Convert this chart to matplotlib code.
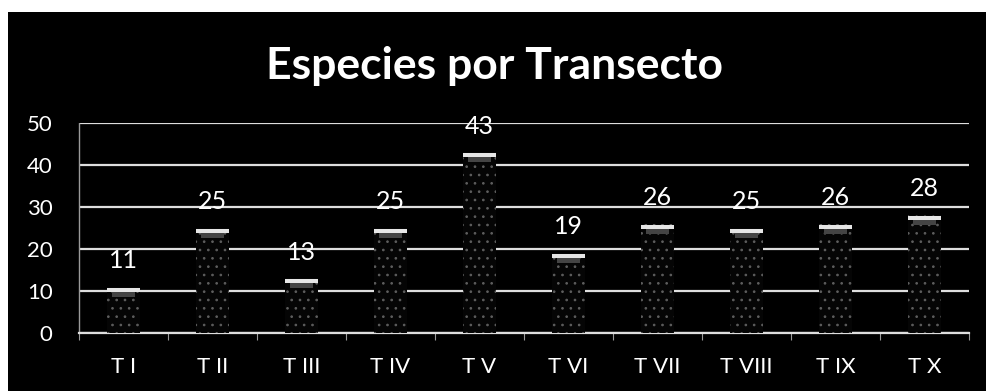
import matplotlib
matplotlib.use("Agg")
import matplotlib.pyplot as plt
from matplotlib.patches import Rectangle
import numpy as np

# Species counted in each transect
transects = ["T I", "T II", "T III", "T IV", "T V", "T VI", "T VII", "T VIII", "T IX", "T X"]
species = [11, 25, 13, 25, 43, 19, 26, 25, 26, 28]
y_ticks = [0, 10, 20, 30, 40, 50]

plt.rcParams["font.family"] = ["Lato", "DejaVu Sans"]
plt.rcParams["hatch.linewidth"] = 0.7

W, H = 987, 391
fig = plt.figure(figsize=(W / 100, H / 100), dpi=100, facecolor="white")

# black chart panel
fig.patches.append(Rectangle((8 / W, 0), 1 - 8 / W, 1 - 12 / H,
                             transform=fig.transFigure, facecolor="black",
                             edgecolor="none", zorder=-10))

ax = fig.add_axes([79 / W, (H - 333) / H, (969 - 79) / W, (333 - 123) / H])
ax.set_facecolor("none")

x = np.arange(len(transects))
vals = np.array(species, dtype=float)
bw = 0.36

# speckled column bodies
ax.bar(x, vals, width=bw, color="#050505", edgecolor="#5e5e5e",
       hatch="..", linewidth=0, zorder=3)
# faded band under the cap
ax.bar(x, np.full_like(vals, 1.4), bottom=vals - 2.4, width=bw * 0.7,
       color="#444444", linewidth=0, zorder=4)
# bright top caps
ax.bar(x, np.full_like(vals, 1.0), bottom=vals - 1.2, width=bw,
       color="#e6e6e6", linewidth=0, zorder=5)

for xi, v in zip(x, species):
    ax.text(xi, v + 4.5, str(v), ha="center", va="baseline", color="white",
            fontsize=18, zorder=6, clip_on=False)

ax.set_xlim(-0.5, len(transects) - 0.5)
ax.set_ylim(0, 50)
ax.set_yticks(y_ticks)
ax.yaxis.grid(True, color="#dedede", linewidth=1.6, zorder=1)
ax.set_axisbelow(True)

for s in ["top", "right"]:
    ax.spines[s].set_visible(False)
ax.spines["left"].set_color("#9a9a9a")
ax.spines["left"].set_linestyle((0, (1, 1)))
ax.spines["left"].set_linewidth(1)
ax.spines["bottom"].set_color("#dedede")
ax.spines["bottom"].set_linewidth(1.6)

ax.set_xticks(np.arange(len(transects) + 1) - 0.5, minor=False)
ax.set_xticklabels([])
ax.set_xticks(x, minor=True)
ax.set_xticklabels(transects, minor=True)
ax.tick_params(axis="x", which="major", length=5, color="#9a9a9a", direction="out")
ax.tick_params(axis="x", which="minor", length=0, pad=17, labelcolor="white",
               labelsize=16)
ax.tick_params(axis="y", length=0, pad=19, labelcolor="white", labelsize=16)

fig.text((268 + 722) / 2 / W, 1 - 66 / H, "Especies por Transecto", ha="center",
         va="center", color="white", fontsize=32, fontweight="bold")

fig.savefig("out.png", dpi=100, facecolor="white")
